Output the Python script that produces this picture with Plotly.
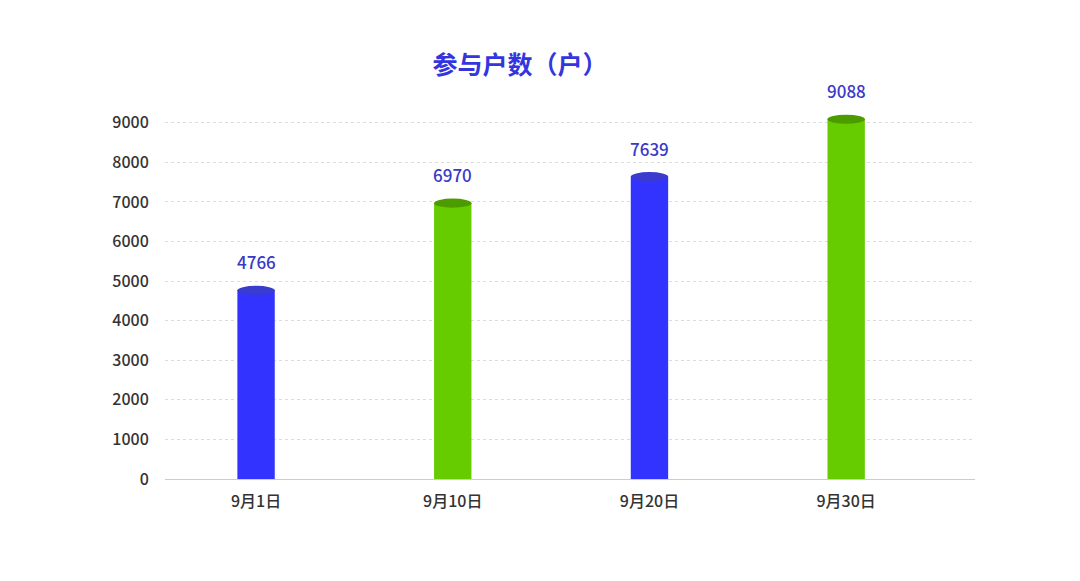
import plotly.graph_objects as go

# dados
categorias = ['9月1日', '9月10日', '9月20日', '9月30日']
valores = [4766, 6970, 7639, 9088]
cores = ['#3333ff', '#66cc00', '#3333ff', '#66cc00']
cores_topo = ['#3b3bcf', '#4c9c00', '#3b3bcf', '#4c9c00']

largura = 0.19
fonte = 'Noto Sans CJK SC'

fig = go.Figure()
fig.add_trace(go.Bar(
    x=categorias, y=valores, width=largura,
    marker=dict(color=cores, line=dict(width=0)),
    showlegend=False, hoverinfo='x+y',
))

# tampa elíptica do cilindro + rótulo
for i, v in enumerate(valores):
    fig.add_shape(type='circle', xref='x', yref='y',
                  x0=i - largura / 2, x1=i + largura / 2,
                  y0=v - 115, y1=v + 115,
                  fillcolor=cores_topo[i], line=dict(width=0), layer='above')
    fig.add_annotation(x=categorias[i], y=v, text=str(v), showarrow=False,
                       yanchor='bottom', yshift=14,
                       font=dict(color='#3a3ac8', size=17, family=fonte, weight=500))

fig.update_layout(
    width=1080, height=581,
    paper_bgcolor='white', plot_bgcolor='white',
    margin=dict(l=157, r=113, t=95, b=110),
    title=dict(text='<b>参与户数（户）</b>', x=0.474, xanchor='center', y=0.902, yanchor='middle',
               font=dict(size=25, color='#3535e0', family=fonte)),
    font=dict(family=fonte, color='#333333', size=16),
    xaxis=dict(type='category', range=[-0.463, 3.655], showgrid=False,
               showline=True, linecolor='#cccccc', linewidth=1,
               ticks='outside', ticklen=8, tickcolor='rgba(0,0,0,0)',
               tickfont=dict(size=16, color='#333333', weight=500)),
    yaxis=dict(range=[0, 9500], tickvals=list(range(0, 10000, 1000)),
               showgrid=True, gridcolor='#dcdcdc', griddash='dot', gridwidth=1,
               zeroline=False, ticks='outside', ticklen=12, tickcolor='rgba(0,0,0,0)',
               tickfont=dict(size=16, color='#333333', weight=500)),
)

fig.write_html('out.html')
